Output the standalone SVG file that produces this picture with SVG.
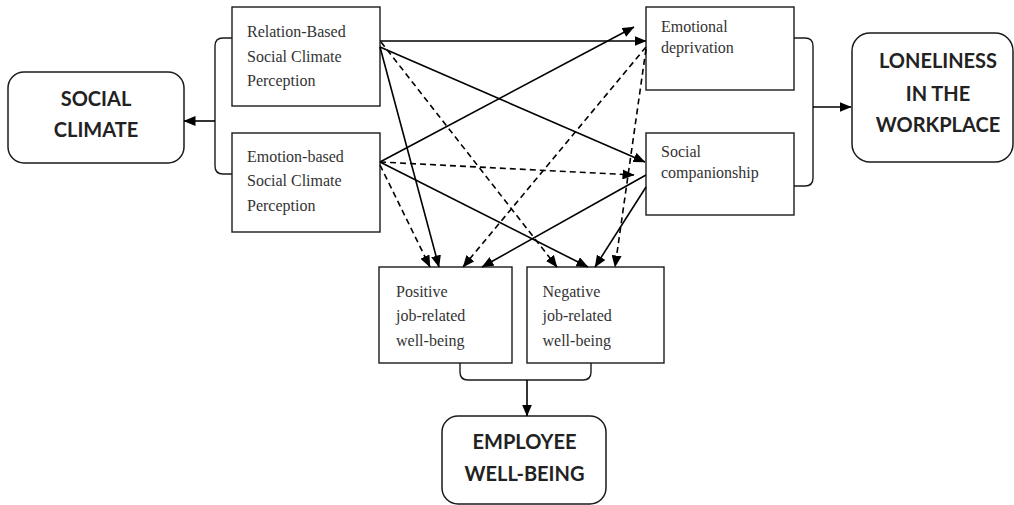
<svg xmlns="http://www.w3.org/2000/svg" width="1014" height="505" viewBox="0 0 1014 505">
<style>
.box{fill:#fff;stroke:#1a1a1a;stroke-width:1.4}
.rbox{fill:#fff;stroke:#1a1a1a;stroke-width:1.5}
.t{font-family:"Liberation Serif","Times New Roman",serif;font-size:16px;fill:#333}
.b{font-family:Lato,"Open Sans",sans-serif;font-weight:bold;font-size:20px;fill:#222;text-anchor:middle}
.c{fill:none;stroke:#000;stroke-width:1.6;marker-end:url(#ah)}
.d{stroke-dasharray:6 4}
.br{fill:none;stroke:#1a1a1a;stroke-width:1.4}
</style>
<defs>
<marker id="ah" markerUnits="userSpaceOnUse" markerWidth="12" markerHeight="10" refX="11.5" refY="5" orient="auto" viewBox="0 0 12 10">
<path d="M0,0 L12,5 L0,10 z" fill="#000"/>
</marker>
</defs>

<g id="social-climate">
<rect class="rbox" x="8" y="72" width="176" height="91" rx="16"/>
<text class="b" x="96" y="106">SOCIAL</text>
<text class="b" x="96" y="137">CLIMATE</text>
</g>

<g id="relation-based">
<rect class="box" x="232" y="7" width="148" height="99"/>
<text class="t" x="247" y="37">Relation-Based</text>
<text class="t" x="247" y="62">Social Climate</text>
<text class="t" x="247" y="86">Perception</text>
</g>

<g id="emotion-based">
<rect class="box" x="232" y="133" width="148" height="99"/>
<text class="t" x="247" y="162">Emotion-based</text>
<text class="t" x="247" y="186">Social Climate</text>
<text class="t" x="247" y="211">Perception</text>
</g>

<g id="emotional-deprivation">
<rect class="box" x="646" y="7" width="148" height="83"/>
<text class="t" x="661" y="31.5">Emotional</text>
<text class="t" x="661" y="52.5">deprivation</text>
</g>

<g id="social-companionship">
<rect class="box" x="646" y="133" width="148" height="82"/>
<text class="t" x="661" y="156.5">Social</text>
<text class="t" x="661" y="177.5">companionship</text>
</g>

<g id="loneliness">
<rect class="rbox" x="852" y="33" width="161" height="129" rx="18"/>
<text class="b" x="938" y="68">LONELINESS</text>
<text class="b" x="938" y="100.5">IN THE</text>
<text class="b" x="938" y="132">WORKPLACE</text>
</g>

<g id="positive-wellbeing">
<rect class="box" x="379" y="267" width="133" height="96"/>
<text class="t" x="396" y="297">Positive</text>
<text class="t" x="396" y="321">job-related</text>
<text class="t" x="396" y="346">well-being</text>
</g>

<g id="negative-wellbeing">
<rect class="box" x="527" y="267" width="137" height="96"/>
<text class="t" x="542.5" y="297">Negative</text>
<text class="t" x="542.5" y="321">job-related</text>
<text class="t" x="542.5" y="346">well-being</text>
</g>

<g id="employee-wellbeing">
<rect class="rbox" x="442" y="416" width="164" height="88" rx="16"/>
<text class="b" x="524.5" y="449">EMPLOYEE</text>
<text class="b" x="524.5" y="480.5">WELL-BEING</text>
</g>

<g id="connectors">
<path class="br" d="M232,38 H223 Q215,38 215,46 V166 Q215,174 223,174 H232"/>
<line class="c" x1="215" y1="121" x2="184" y2="121"/>
<path class="br" d="M794,38 H805 Q813,38 813,46 V178 Q813,186 805,186 H794"/>
<line class="c" x1="813" y1="107" x2="851" y2="107"/>
<path class="br" d="M460,363 V372 Q460,380 468,380 H583 Q591,380 591,372 V363"/>
<line class="c" x1="527" y1="380" x2="527" y2="416"/>

<line class="c" x1="380" y1="41" x2="646" y2="41"/>
<line class="c" x1="380" y1="47" x2="645" y2="162"/>
<line class="c" x1="380" y1="47" x2="439" y2="267"/>
<line class="c" x1="380" y1="162" x2="634" y2="27"/>
<line class="c" x1="380" y1="162" x2="588" y2="267"/>
<line class="c" x1="646" y1="175" x2="482" y2="267"/>
<line class="c" x1="646" y1="187" x2="595" y2="267"/>

<line class="c d" x1="381" y1="42" x2="557" y2="267"/>
<line class="c d" x1="380" y1="162" x2="634" y2="175"/>
<line class="c d" x1="380" y1="165" x2="430" y2="267"/>
<line class="c d" x1="646" y1="47" x2="463" y2="267"/>
<line class="c d" x1="646" y1="49" x2="615" y2="267"/>
</g>
</svg>
